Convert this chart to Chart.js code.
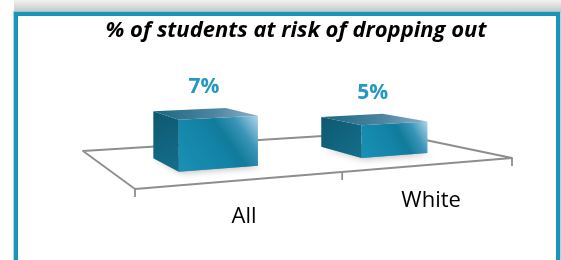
<!DOCTYPE html>
<html>
<head>
<meta charset="utf-8">
<script src="https://cdn.jsdelivr.net/npm/chart.js@4.4.1/dist/chart.umd.min.js"></script>
<style>
    body { margin: 0; background: #fff; }
    #shade { position: absolute; left: 14px; top: 0; width: 547px; height: 12px;
             background: linear-gradient(to bottom, #f2f2f2, #c6c6c6); }
    #frame { position: absolute; left: 14px; top: 12px; width: 546px; height: 300px;
             box-sizing: border-box; border: 4px solid #1796ba;
             box-shadow: 0 0 0 1px rgba(130, 200, 225, 0.7); }
    #chart { position: absolute; left: 0; top: 0; }
</style>
</head>
<body>
<div id="shade"></div>
<div id="frame"></div>
<canvas id="chart" width="561" height="260"></canvas>
<script>
// dados do grafico
var categorias = ['All', 'White'];
var valores = [7.1, 4.9];
var escalaMax = 10;

// chao em perspectiva (cantos no ecra)
var chaoFL = [135, 189], chaoFR = [512, 158], chaoBR = [387, 132], chaoBL = [83, 151];
var alturaTotal = 82.4;       // altura em px de escalaMax na frente do chao
var fundoBarra = [0.27, 0.65]; // profundidade das barras

function homografia() {
    var x0 = chaoFL[0], y0 = chaoFL[1], x1 = chaoFR[0], y1 = chaoFR[1];
    var x2 = chaoBR[0], y2 = chaoBR[1], x3 = chaoBL[0], y3 = chaoBL[1];
    var dx1 = x1 - x2, dy1 = y1 - y2, dx2 = x3 - x2, dy2 = y3 - y2;
    var dx3 = x0 - x1 + x2 - x3, dy3 = y0 - y1 + y2 - y3;
    var det = dx1 * dy2 - dx2 * dy1;
    var g = (dx3 * dy2 - dx2 * dy3) / det;
    var h = (dx1 * dy3 - dx3 * dy1) / det;
    return {
        a: x1 - x0 + g * x1, b: x3 - x0 + h * x3, c: x0,
        d: y1 - y0 + g * y1, e: y3 - y0 + h * y3, f: y0, g: g, h: h
    };
}
var H = homografia();

function proj(s, t, z) {
    var w = H.g * s + H.h * t + 1;
    return [(H.a * s + H.b * t + H.c) / w, (H.d * s + H.e * t + H.f) / w - (z || 0) * alturaTotal / w];
}

function poligono(ctx, pts) {
    ctx.beginPath();
    ctx.moveTo(pts[0][0], pts[0][1]);
    for (var i = 1; i < pts.length; i++) ctx.lineTo(pts[i][0], pts[i][1]);
    ctx.closePath();
}

var barras3d = {
    id: 'barras3d',
    afterDatasetsDraw: function (chart) {
        var ctx = chart.ctx, area = chart.chartArea, xs = chart.scales.x;
        var sDe = function (px) { return (px - area.left) / (area.right - area.left); };

        ctx.save();
        // chao
        ctx.strokeStyle = '#8e8e8e';
        ctx.lineWidth = 1.8;
        ctx.lineJoin = 'round';
        poligono(ctx, [proj(0, 0), proj(1, 0), proj(1, 1), proj(0, 1)]);
        ctx.stroke();
        // marcas do eixo
        for (var i = 0; i <= categorias.length; i++) {
            var s = sDe(xs.getPixelForValue(i - 0.5));
            var p = proj(s, 0);
            ctx.beginPath();
            ctx.moveTo(p[0], p[1]);
            ctx.lineTo(p[0], p[1] + 8);
            ctx.stroke();
        }

        var meta = chart.getDatasetMeta(0);
        var t0 = fundoBarra[0], t1 = fundoBarra[1];
        meta.data.forEach(function (bar, i) {
            var s0 = sDe(bar.x - bar.width / 2), s1 = sDe(bar.x + bar.width / 2);
            var z = (bar.base - bar.y) / (area.bottom - area.top);

            // sombra
            ctx.save();
            ctx.shadowColor = 'rgba(0,0,0,0.45)';
            ctx.shadowBlur = 7;
            ctx.shadowOffsetX = 3;
            ctx.shadowOffsetY = 1;
            ctx.fillStyle = 'rgba(110,110,110,0.6)';
            poligono(ctx, [proj(s0, t0), proj(s1, t0), proj(s1, t1), proj(s0, t1)]);
            ctx.fill();
            ctx.restore();

            // face esquerda
            var a = proj(s0, t1, z), b = proj(s0, t0, z), c = proj(s0, t0), d = proj(s0, t1);
            var gr = ctx.createLinearGradient(a[0], a[1], c[0], c[1]);
            gr.addColorStop(0, '#0e5870');
            gr.addColorStop(1, '#146f8c');
            ctx.fillStyle = gr;
            poligono(ctx, [a, b, c, d]);
            ctx.fill();

            // face da frente
            var fl = proj(s0, t0), fr = proj(s1, t0), tr = proj(s1, t0, z), tl = proj(s0, t0, z);
            gr = ctx.createLinearGradient(fl[0], fl[1], tr[0], tr[1]);
            gr.addColorStop(0, '#1991b6');
            gr.addColorStop(0.45, '#1383a6');
            gr.addColorStop(0.6, '#117b9b');
            gr.addColorStop(0.78, '#3a94b7');
            gr.addColorStop(1, '#b0d5ec');
            ctx.fillStyle = gr;
            poligono(ctx, [fl, fr, tr, tl]);
            ctx.fill();

            // face de cima
            var bl = proj(s0, t1, z), br = proj(s1, t1, z);
            gr = ctx.createLinearGradient(bl[0], bl[1], tr[0], tr[1]);
            gr.addColorStop(0, '#1b6680');
            gr.addColorStop(0.6, '#4f86a2');
            gr.addColorStop(1, '#8db3ca');
            ctx.fillStyle = gr;
            poligono(ctx, [tl, tr, br, bl]);
            ctx.fill();

            // valor
            var topo = proj((s0 + s1) / 2, (t0 + t1) / 2, z);
            ctx.fillStyle = '#2598c0';
            ctx.font = 'bold 21px "Open Sans"';
            ctx.textAlign = 'center';
            ctx.textBaseline = 'middle';
            ctx.fillText(Math.round(valores[i]) + '%', topo[0], topo[1] - 26);

            // categoria
            var base = proj(sDe(bar.x), 0);
            ctx.fillStyle = '#000';
            ctx.font = '22px "Open Sans"';
            ctx.fillText(categorias[i], base[0], base[1] + 36.5);
        });
        ctx.restore();
    }
};

var ctx = document.getElementById('chart');
var grafico = new Chart(ctx, {
    type: 'bar',
    data: {
        labels: categorias,
        datasets: [{
            label: '% of students at risk of dropping out',
            data: valores,
            backgroundColor: 'rgba(0,0,0,0)',
            barPercentage: 0.41,
            categoryPercentage: 1
        }]
    },
    options: {
        responsive: false,
        animation: false,
        layout: { padding: { left: 31, right: 0, top: 0, bottom: 0 } },
        scales: {
            x: { display: false },
            y: { display: false, min: 0, max: escalaMax }
        },
        plugins: {
            legend: { display: false },
            tooltip: { enabled: false },
            title: {
                display: true,
                text: '% of students at risk of dropping out',
                color: '#000',
                font: { family: 'Open Sans', size: 22, weight: 'bold', style: 'italic', lineHeight: 1.2 },
                padding: { top: 18, bottom: 10 }
            }
        }
    },
    plugins: [barras3d]
});
</script>
</body>
</html>
